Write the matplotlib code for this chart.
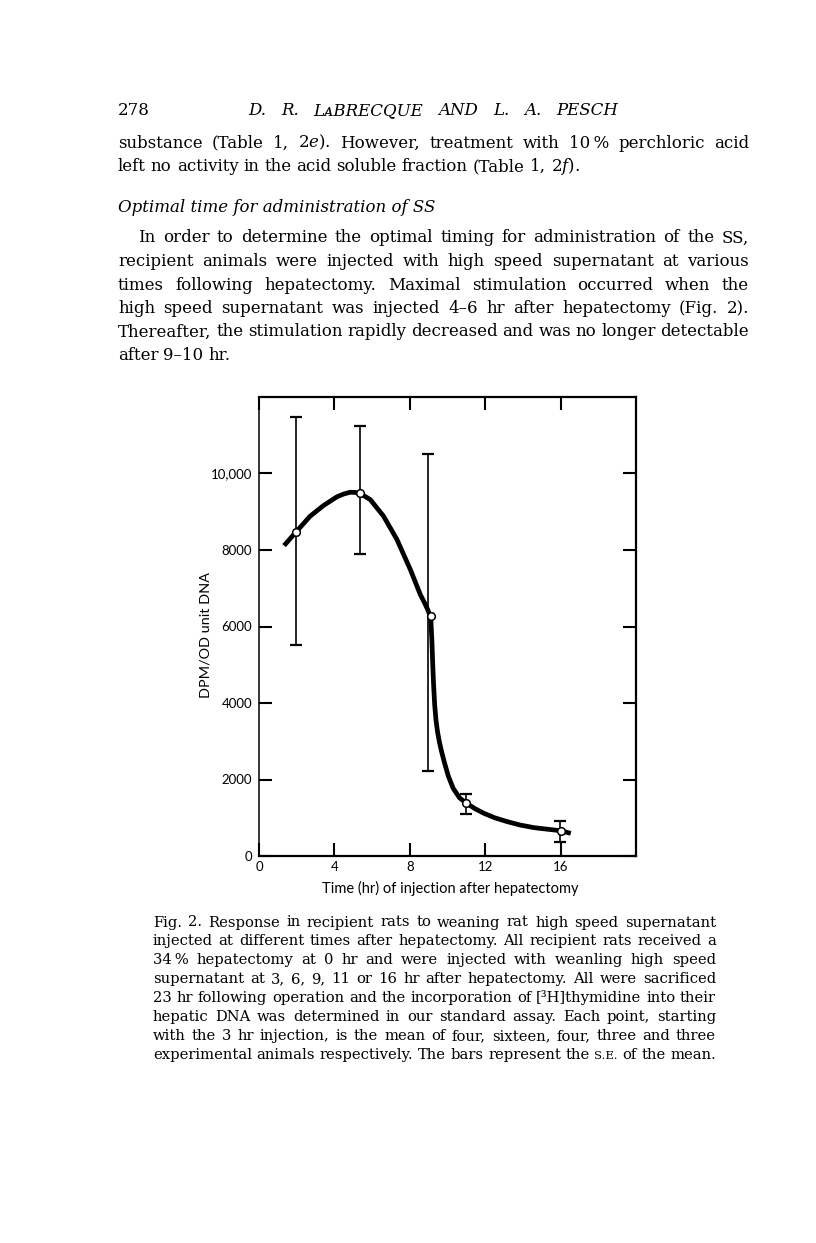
import matplotlib
matplotlib.use('Agg')
import matplotlib.pyplot as plt

W, H = 816, 1243

# points of Fig. 2 (hr after hepatectomy, DPM/OD unit DNA)
pt_hr = [1.97, 5.37, 9.1, 11.0, 16.0]
pt_dpm = [8470, 9480, 6265, 1380, 660]

# S.E. bars
bar_hr = [1.97, 5.37, 8.94, 11.0, 15.97]
bar_hi = [11470, 11230, 10520, 1620, 915]
bar_lo = [5525, 7905, 2225, 1100, 365]

# hand drawn curve
curve_hr = [1.33, 1.97, 2.71, 3.42, 4.13, 4.50, 4.84, 5.10, 5.37, 5.90, 6.61,
            7.32, 8.03, 8.56, 8.80, 8.95, 9.05, 9.10, 9.13, 9.17, 9.21, 9.26,
            9.32, 9.39, 9.47, 9.57, 9.70, 9.85, 10.05, 10.30, 10.64, 11.01,
            11.45, 11.93, 12.50, 13.17, 13.85, 14.59, 15.30, 15.97, 16.54]
curve_dpm = [8115, 8474, 8883, 9162, 9390, 9465, 9510, 9505, 9476, 9319, 8883,
             8272, 7487, 6832, 6600, 6440, 6320, 6265, 6050, 5650, 5100, 4500,
             3950, 3550, 3250, 2980, 2700, 2420, 2080, 1770, 1520, 1379,
             1240, 1117, 1000, 898, 810, 741, 700, 663, 593]

x_ticks = [0, 4, 8, 12, 16]
y_ticks = [0, 2000, 4000, 6000, 8000, 10000]
y_ticklabels = ['0', '2000', '4000', '6000', '8000', '10,000']

header_num = '278'
header_title = 'D. R. LᴀBRECQUE AND L. A. PESCH'
top_lines = [
    r'substance (Table 1, 2$\mathit{e}$). However, treatment with 10' + '\u2009' + r'% perchloric acid',
    r'left no activity in the acid soluble fraction (Table 1, 2$\mathit{f}$).',
]
heading = 'Optimal time for administration of SS'
para_lines = [
    'In order to determine the optimal timing for administration of the SS,',
    'recipient animals were injected with high speed supernatant at various',
    'times following hepatectomy. Maximal stimulation occurred when the',
    'high speed supernatant was injected 4–6 hr after hepatectomy (Fig. 2).',
    'Thereafter, the stimulation rapidly decreased and was no longer detectable',
    'after 9–10 hr.',
]
caption_lines = [
    'Fig. 2. Response in recipient rats to weaning rat high speed supernatant',
    'injected at different times after hepatectomy. All recipient rats received a',
    '34\u2009% hepatectomy at 0 hr and were injected with weanling high speed',
    'supernatant at 3, 6, 9, 11 or 16 hr after hepatectomy. All were sacrificed',
    '23 hr following operation and the incorporation of [³H]thymidine into their',
    'hepatic DNA was determined in our standard assay. Each point, starting',
    'with the 3 hr injection, is the mean of four, sixteen, four, three and three',
    'experimental animals respectively. The bars represent the S.E. of the mean.',
]

plt.rcParams['mathtext.fontset'] = 'dejavuserif'
SERIF = ['DejaVu Serif', 'DejaVu Sans']

fig = plt.figure(figsize=(W / 100, H / 100), dpi=100)
renderer = fig.canvas.get_renderer()


def fx(x):
    return x / W


def fy(y):
    return 1 - y / H


# one line of text, words spread out between x0 and x1 like the typeset page
def put_line(line, x0, x1, y, size, justify=True, style='normal'):
    words = line.split(' ')
    texts, widths = [], []
    for w in words:
        s = size * 0.78 if w == 'S.E.' else size
        t = fig.text(0, fy(y), w, fontsize=s, family=SERIF, style=style,
                     va='baseline', ha='left')
        texts.append(t)
        widths.append(t.get_window_extent(renderer).width)
    space = 0.3 * size * 100 / 72
    if justify and len(words) > 1:
        gap = (x1 - x0 - sum(widths)) / (len(words) - 1)
        gap = max(gap, space * 0.5)
    else:
        gap = space
    x = x0
    for t, w in zip(texts, widths):
        t.set_x(fx(x))
        x += w + gap


BODY = 12.0
CAP = 10.6

# running head
fig.text(fx(118), fy(115), header_num, fontsize=BODY, family=SERIF, va='baseline')
put_line(header_title, 248, 618, 115, BODY, style='italic')

put_line(top_lines[0], 118, 749, 147.5, BODY)
put_line(top_lines[1], 118, 749, 171, BODY, justify=False)

fig.text(fx(118), fy(212.5), heading, fontsize=BODY, family=SERIF,
         style='italic', va='baseline')

for i, line in enumerate(para_lines):
    x0 = 138 if i == 0 else 118
    put_line(line, x0, 749, 242.5 + i * 23.5, BODY, justify=i < len(para_lines) - 1)

for i, line in enumerate(caption_lines):
    put_line(line, 153, 716, 926.5 + i * 18.9, CAP)

# the graph
ax = fig.add_axes([fx(259), fy(856), (636 - 259) / W, (856 - 397) / H])
ax.plot(curve_hr, curve_dpm, color='black', lw=3.4, solid_capstyle='butt',
        solid_joinstyle='round', zorder=2)
ax.vlines(bar_hr, bar_lo, bar_hi, color='black', lw=1.2, zorder=1)
ax.plot(bar_hr, bar_hi, ls='none', marker='_', ms=9, mew=1.6, color='black')
ax.plot(bar_hr, bar_lo, ls='none', marker='_', ms=9, mew=1.6, color='black')
ax.plot(pt_hr, pt_dpm, ls='none', marker='o', ms=5.5, mfc='white', mec='black',
        mew=1.1, zorder=4)

ax.set_xlim(0, 20)
ax.set_ylim(0, 12000)
ax.set_xticks(x_ticks)
ax.set_xticklabels([str(v) for v in x_ticks])
ax.set_yticks(y_ticks)
ax.set_yticklabels(y_ticklabels)
ax.tick_params(direction='in', length=9.5, width=1.5, top=True, right=True,
               labelsize=9.5)
ax.tick_params(axis='x', pad=3.5)
ax.tick_params(axis='y', pad=5)
for lab in ax.get_xticklabels() + ax.get_yticklabels():
    lab.set_family('Lato')
for side in ['top', 'right', 'bottom']:
    ax.spines[side].set_linewidth(1.6)
ax.spines['left'].set_linewidth(1.1)

fig.text(fx(450), fy(888), 'Time (hr) of injection after hepatectomy',
         fontsize=10.5, family='Lato', ha='center', va='center')
fig.text(fx(205), fy(635), 'DPM/OD unit DNA', fontsize=10.4, family='Lato',
         rotation=90, ha='center', va='center')

fig.savefig('out.png', dpi=100)
